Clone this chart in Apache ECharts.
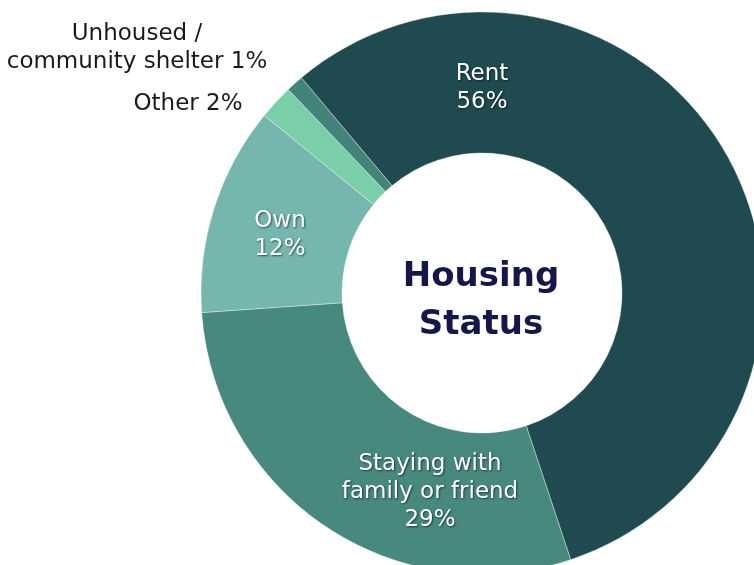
<!DOCTYPE html>
<html>
<head>
<meta charset="utf-8">
<script src="https://cdn.jsdelivr.net/npm/echarts@6/dist/echarts.min.js"></script>
<style>
  html, body { margin: 0; padding: 0; background: #fff; }
  #chart { width: 754px; height: 565px; }
</style>
</head>
<body>
<div id="chart"></div>
<script>
const categories = ['Rent', 'Staying with\nfamily or friend', 'Own', 'Other', 'Unhoused /\ncommunity shelter']
const shares = [56, 29, 12, 2, 1]
const colors = ['#1f4a50', '#47887f', '#75b6ae', '#7acfa8', '#428479']

// label spots, measured from the pie centre
const labelOffsets = [[0, -205], [-52, 199], [-202, -58], [-294, -189], [-345, -245]]
const insideLabel = [true, true, true, false, false]

const chart = echarts.init(document.getElementById('chart'))

let data = categories.map(function (name, i) {
  let inside = insideLabel[i]
  return {
    name: name,
    value: shares[i],
    itemStyle: { color: colors[i] },
    label: {
      position: 'center',
      offset: labelOffsets[i],
      formatter: inside ? '{b}\n{c}%' : '{b} {c}%',
      color: inside ? '#fff' : '#1a1a1a',
      textShadowColor: inside ? 'rgba(0,0,0,0.55)' : 'transparent',
      textShadowBlur: inside ? 2 : 0,
      textShadowOffsetX: inside ? 1 : 0,
      textShadowOffsetY: inside ? 1 : 0
    }
  }
})

chart.setOption({
  animation: false,
  title: {
    text: 'Housing\nStatus',
    left: 476,
    top: 248,
    textAlign: 'center',
    textStyle: {
      fontFamily: 'DejaVu Sans',
      fontWeight: 'bold',
      fontSize: 34,
      lineHeight: 48,
      color: '#15164a'
    }
  },
  series: [{
    type: 'pie',
    center: [482, 293],
    radius: [140, 281],
    startAngle: 130,
    clockwise: true,
    avoidLabelOverlap: false,
    itemStyle: { borderColor: 'rgba(255,255,255,0.6)', borderWidth: 0.6 },
    label: {
      show: true,
      fontFamily: 'DejaVu Sans',
      fontSize: 23,
      lineHeight: 28,
      align: 'center'
    },
    labelLine: { show: false },
    emphasis: { disabled: true },
    data: data
  }]
})
</script>
</body>
</html>
